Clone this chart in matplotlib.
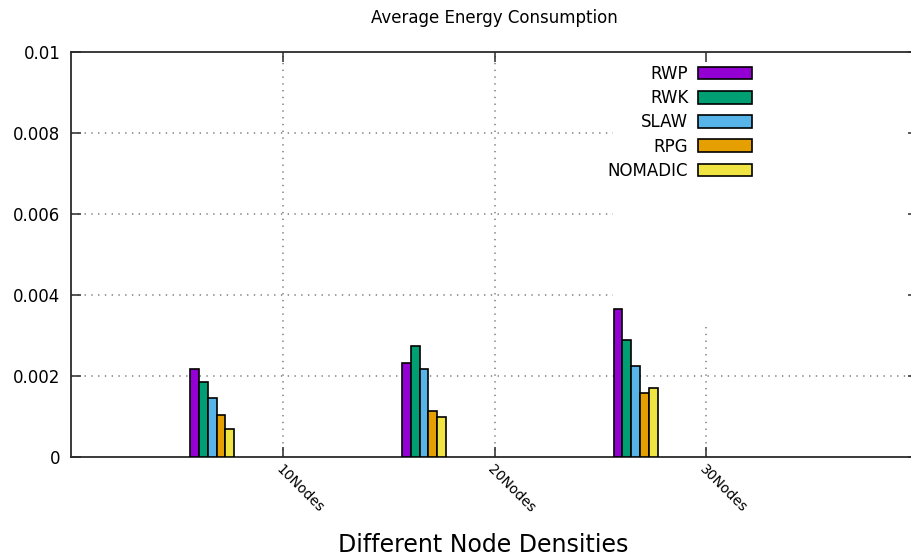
import matplotlib
matplotlib.use("Agg")
import matplotlib.pyplot as plt

# ---- data ----
categories = ["10Nodes", "20Nodes", "30Nodes"]
series_names = ["RWP", "RWK", "SLAW", "RPG", "NOMADIC"]
rwp = [0.00217, 0.00233, 0.00365]
rwk = [0.00184, 0.00275, 0.00289]
slaw = [0.00146, 0.00218, 0.00225]
rpg = [0.00104, 0.00114, 0.00157]
nomadic = [0.00069, 0.00098, 0.00170]
yticks = [0, 0.002, 0.004, 0.006, 0.008, 0.01]
ytick_labels = ["0", "0.002", "0.004", "0.006", "0.008", "0.01"]
title = "Average Energy Consumption"
xlabel = "Different Node Densities"

# ---- style ----
colors = ["#9400d3", "#009e73", "#56b4e9", "#e69f00", "#f0e442"]
bar_w = 0.0416
group_offset = -1 / 3
key_blank_x = 1.56      # grid is hidden behind the key area (gnuplot style)
key_blank_y = 0.0032

fig = plt.figure(figsize=(9.11, 5.6), dpi=100)
ax = fig.add_axes([71 / 911, 103 / 560, 847 / 911, 405 / 560])
ax.set_xlim(-1, 3)
ax.set_ylim(0, 0.01)

all_series = [rwp, rwk, slaw, rpg, nomadic]
for k, (name, vals, c) in enumerate(zip(series_names, all_series, colors)):
    xs = [i + group_offset + (k - 2) * bar_w for i in range(len(categories))]
    ax.bar(xs, vals, width=bar_w, color=c, edgecolor="black", linewidth=1.2,
           label=name, zorder=3)

# grid (dotted), clipped around key area
gkw = dict(colors="#8f8f8f", linestyles=[(0, (0.75, 3))], linewidths=1.3, zorder=1)
for y in yticks[1:-1]:
    if y < key_blank_y:
        ax.hlines(y, -1, 3, **gkw)
    else:
        ax.hlines(y, -1, key_blank_x, **gkw)
for i in range(len(categories)):
    xpos = i
    if xpos < key_blank_x:
        ax.vlines(xpos, 0, 0.01, **gkw)
    else:
        ax.vlines(xpos, 0, key_blank_y, **gkw)

ax.set_xticks(range(len(categories)))
ax.set_xticklabels(categories, rotation=-45, ha="left", va="top",
                   rotation_mode="anchor", fontsize=10)
ax.set_yticks(yticks)
ax.set_yticklabels(ytick_labels, fontsize=12)
ax.tick_params(axis="both", direction="in", length=7, width=1.1,
               top=True, right=True, color="#2b2b2b")
ax.tick_params(axis="y", pad=7.5)
ax.tick_params(axis="x", pad=4)
for s in ax.spines.values():
    s.set_linewidth(1.3)
    s.set_color("#2b2b2b")

fig.text(494.5 / 911, 537 / 560, title, ha="center", va="baseline", fontsize=12)
fig.text(483 / 911, 8 / 560, xlabel, ha="center", va="baseline", fontsize=17)

ax.legend(loc="upper right", bbox_to_anchor=(752 / 911, (560 - 65) / 560),
          bbox_transform=fig.transFigure, frameon=False, markerfirst=False,
          handlelength=3.24, handleheight=0.78, handletextpad=0.58,
          labelspacing=0.37, borderpad=0, borderaxespad=0, fontsize=12)

fig.savefig("out.png", dpi=100)
